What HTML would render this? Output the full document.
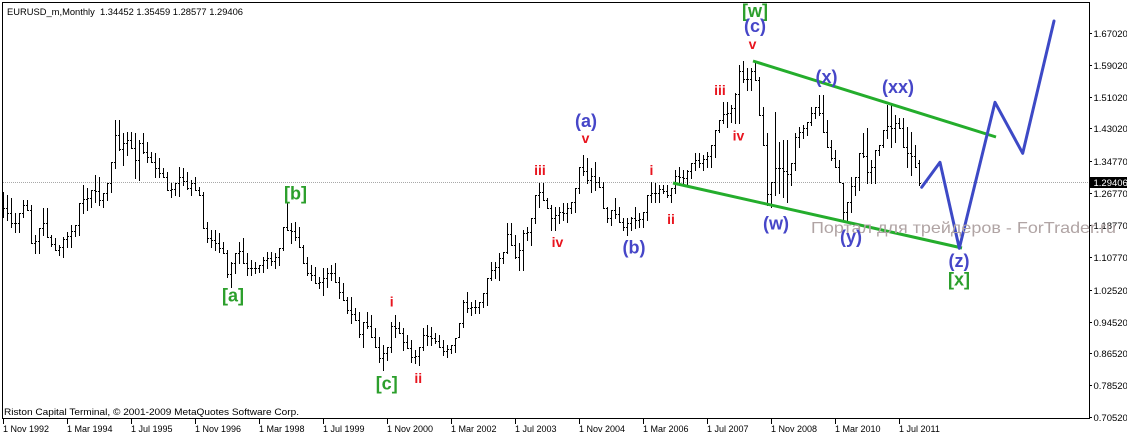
<!DOCTYPE html>
<html><head><meta charset="utf-8">
<style>
html,body{margin:0;padding:0;background:#fff;width:1127px;height:436px;overflow:hidden}
svg{display:block}
text{font-family:"Liberation Sans",Arial,sans-serif}
.b{font-weight:bold;text-anchor:middle}
.g{fill:#2c9f2c;font-size:18px}
.u{fill:#4646c8;font-size:18px}
.r{fill:#e8141e;font-size:14px}
.ya{font-size:9.5px;fill:#000}
.xa{font-size:9px;fill:#000}
</style></head><body>
<svg id="s" width="1127" height="436" viewBox="0 0 1127 436" xmlns="http://www.w3.org/2000/svg">
<rect width="1127" height="436" fill="#fff"/>
<defs><clipPath id="c"><rect x="2" y="3" width="1087" height="415"/></clipPath></defs>
<line x1="3" y1="182.5" x2="1089" y2="182.5" stroke="#a8a8a8" stroke-dasharray="1 1" shape-rendering="crispEdges"/>
<path id="bars" clip-path="url(#c)" stroke="#000" stroke-width="1" fill="none" shape-rendering="crispEdges" d=""/>
<rect x="2.5" y="2.5" width="1087" height="416" fill="none" stroke="#000" stroke-width="1" shape-rendering="crispEdges"/>

<!-- channel lines -->
<line x1="753" y1="61" x2="996" y2="137" stroke="#24ad2c" stroke-width="3"/>
<line x1="673" y1="183" x2="962" y2="248" stroke="#24ad2c" stroke-width="3"/>
<!-- projection -->
<polyline points="921.7,187.3 940,162.3 959.3,248.3 995,102.3 1022.7,153.3 1054,21" fill="none" stroke="#3d49c6" stroke-width="3" stroke-linejoin="round" stroke-linecap="round"/>

<!-- header/footer -->
<text x="7" y="15" style="font-size:9.5px" textLength="236" lengthAdjust="spacingAndGlyphs">EURUSD_m,Monthly&#160;&#160;1.34452 1.35459 1.28577 1.29406</text>
<text x="4" y="415" style="font-size:9.5px" textLength="295" lengthAdjust="spacingAndGlyphs">Riston Capital Terminal, © 2001-2009 MetaQuotes Software Corp.</text>

<!-- y axis -->
<g stroke="#000" shape-rendering="crispEdges">
<line x1="1089" y1="33.5" x2="1092" y2="33.5"/>
<line x1="1089" y1="65.5" x2="1092" y2="65.5"/>
<line x1="1089" y1="97.5" x2="1092" y2="97.5"/>
<line x1="1089" y1="128.5" x2="1092" y2="128.5"/>
<line x1="1089" y1="161.5" x2="1092" y2="161.5"/>
<line x1="1089" y1="193.5" x2="1092" y2="193.5"/>
<line x1="1089" y1="225.5" x2="1092" y2="225.5"/>
<line x1="1089" y1="257.5" x2="1092" y2="257.5"/>
<line x1="1089" y1="290.5" x2="1092" y2="290.5"/>
<line x1="1089" y1="322.5" x2="1092" y2="322.5"/>
<line x1="1089" y1="353.5" x2="1092" y2="353.5"/>
<line x1="1089" y1="385.5" x2="1092" y2="385.5"/>
<line x1="1089" y1="417.5" x2="1092" y2="417.5"/>
</g>
<g class="ya">
<text x="1093.5" y="37">1.67020</text>
<text x="1093.5" y="69">1.59020</text>
<text x="1093.5" y="101">1.51020</text>
<text x="1093.5" y="132">1.43020</text>
<text x="1093.5" y="165">1.34770</text>
<text x="1093.5" y="197">1.26770</text>
<text x="1093.5" y="229">1.18770</text>
<text x="1093.5" y="261">1.10770</text>
<text x="1093.5" y="294">1.02520</text>
<text x="1093.5" y="326">0.94520</text>
<text x="1093.5" y="357">0.86520</text>
<text x="1093.5" y="389">0.78520</text>
<text x="1093.5" y="421">0.70520</text>
</g>
<rect x="1090" y="177" width="37" height="11" fill="#000"/>
<text x="1093.5" y="186" class="ya" style="fill:#fff">1.29406</text>

<!-- x axis -->
<g stroke="#000" shape-rendering="crispEdges">
<line x1="3.5" y1="419" x2="3.5" y2="424"/>
<line x1="67.5" y1="419" x2="67.5" y2="424"/>
<line x1="131.5" y1="419" x2="131.5" y2="424"/>
<line x1="195.5" y1="419" x2="195.5" y2="424"/>
<line x1="259.5" y1="419" x2="259.5" y2="424"/>
<line x1="323.5" y1="419" x2="323.5" y2="424"/>
<line x1="387.5" y1="419" x2="387.5" y2="424"/>
<line x1="451.5" y1="419" x2="451.5" y2="424"/>
<line x1="515.5" y1="419" x2="515.5" y2="424"/>
<line x1="579.5" y1="419" x2="579.5" y2="424"/>
<line x1="643.5" y1="419" x2="643.5" y2="424"/>
<line x1="707.5" y1="419" x2="707.5" y2="424"/>
<line x1="771.5" y1="419" x2="771.5" y2="424"/>
<line x1="835.5" y1="419" x2="835.5" y2="424"/>
<line x1="899.5" y1="419" x2="899.5" y2="424"/>
</g>
<g class="xa">
<text x="3" y="432">1 Nov 1992</text>
<text x="67" y="432">1 Mar 1994</text>
<text x="131" y="432">1 Jul 1995</text>
<text x="195" y="432">1 Nov 1996</text>
<text x="259" y="432">1 Mar 1998</text>
<text x="323" y="432">1 Jul 1999</text>
<text x="387" y="432">1 Nov 2000</text>
<text x="451" y="432">1 Mar 2002</text>
<text x="515" y="432">1 Jul 2003</text>
<text x="579" y="432">1 Nov 2004</text>
<text x="643" y="432">1 Mar 2006</text>
<text x="707" y="432">1 Jul 2007</text>
<text x="771" y="432">1 Nov 2008</text>
<text x="835" y="432">1 Mar 2010</text>
<text x="899" y="432">1 Jul 2011</text>
</g>

<!-- watermark -->
<text x="811" y="233" style="font-size:16px;fill:#b0a4a4" textLength="305" lengthAdjust="spacingAndGlyphs">Портал для трейдеров - ForTrader.ru</text>

<!-- wave labels -->
<g class="b g">
<text x="755" y="17">[w]</text>
<text x="959" y="285.5">[x]</text>
<text x="233" y="301.5">[a]</text>
<text x="295.5" y="199.5">[b]</text>
<text x="386.7" y="389.5">[c]</text>
</g>
<g class="b u">
<text x="755" y="32">(c)</text>
<text x="826.5" y="83">(x)</text>
<text x="898" y="93">(xx)</text>
<text x="776" y="229.5">(w)</text>
<text x="851" y="243">(y)</text>
<text x="959" y="267">(z)</text>
<text x="586" y="127">(a)</text>
<text x="634" y="253.5">(b)</text>
</g>
<g class="b r">
<text x="752.5" y="49">v</text>
<text x="720" y="95">iii</text>
<text x="738.5" y="140.5">iv</text>
<text x="585.5" y="143">v</text>
<text x="540" y="175">iii</text>
<text x="557.5" y="247">iv</text>
<text x="651.5" y="175">i</text>
<text x="671" y="224">ii</text>
<text x="391.7" y="306.5">i</text>
<text x="418.3" y="383">ii</text>
</g>
</svg>
<script>
(function(){
var segs=[
[0,110,[[245,320],[255,330],[265,350],[310,365],[310,365],[270,320],[270,300],[285,400],[375,428],[355,428],
[295,375],[295,380],[375,408],[385,420],[405,435],[380,442],[365,410],[345,410],[345,378],[280,375],
[225,310],[235,300],[240,290],[195,275],[200,285],[250,290],[220,270],[155,245],[30,175],[30,120],
[70,165],[65,135],[65,115],[70,205],[90,210],[70,130],[95,155],[125,155],[130,200],[145,200],
[175,200],[185,240],[220,260],[220,255],[170,258],[175,225],[185,238],[210,255],[200,240],[230,255],
[245,355],[335,395],[360,410],[360,420],[370,425],[395,430],[420,500],[455,530],[430,490],[395,460]]],
[60,180,[[175,250],[220,285],[240,285],[245,280],[255,275],[230,275],[215,265],[215,255],[220,265],[205,255],
[140,210],[70,150],[130,190],[125,180],[140,200],[195,250],[230,285],[255,300],[260,310],[290,325],
[265,345],[265,320],[255,300],[250,305],[290,355],[310,360],[350,400],[350,430],[385,420],[395,470],
[425,500],[395,445],[405,470],[445,500],[470,545],[495,570],[500,540],[425,515],[405,470],[425,460],
[445,510],[465,505],[480,545],[510,550],[500,555],[445,510],[435,495],[440,495],[460,490],[465,500],
[480,525],[495,530],[495,520],[475,515],[430,470],[360,440],[335,395]]],
[117,130,[[515,555],[510,550],[515,548],[490,530],[445,525],[395,450],[395,445],[370,450],[365,400],[280,370],
[280,345],[315,385],[340,420],[300,420],[290,330],[265,345],[195,280],[160,230],[160,210],[205,235],
[225,300],[230,300],[230,280],[220,270],[220,275],[215,250],[175,245],[110,190],[75,135],[85,160],
[115,185],[95,180],[140,170],[155,235],[230,275],[240,285],[205,265],[230,275],[265,300],[265,315],
[260,300],[230,295],[250,290],[245,290],[195,270],[155,215],[160,215],[165,215],[165,190],[165,200],
[175,215],[120,190],[110,165],[120,160],[120,165]]],
[172,0,[[490,535],[460,510],[460,500],[465,510],[455,500],[435,500],[390,470],[360,395],[305,370],[305,380],
[315,365],[280,370],[195,370],[183,245],[205,270],[205,270],[183,240],[230,345],[320,435],[400,615],
[545,620],[335,585],[425,580],[420,590],[420,605],[490,555],[400,510],[380,440],[375,415],[365,405],
[320,375],[320,355],[285,345],[285,395],[360,440],[420,480],[450,500],[480,545],[550,660],[605,665],
[530,635],[530,585],[460,570],[400,470],[385,550],[480,550],[450,550],[435,465],[390,440],[315,415],
[315,440],[345,425],[355,385],[355,440],[380,500],[395,525],[435,500],[480,555]]]
];
var H=[],L=[];
segs.forEach(function(s){var st=s[0],off=s[1];s[2].forEach(function(p,k){H[st+k]=off+p[0]/3;L[st+k]=off+p[1]/3;});});
var n=H.length,C=[],O=[],i;
function cl(v,a,b){return Math.min(b,Math.max(a,v));}
for(i=0;i<n;i++){
  var m=i<n-1?(H[i+1]+L[i+1])/2:182.7;
  C[i]=cl(m,H[i],L[i]);
  var o=i>0?C[i-1]:(H[i]+L[i])/2;
  O[i]=cl(o,H[i],L[i]);
}
O[n-1]=162.6;C[n-1]=182.7;
var d='';
for(i=0;i<n;i++){
  var x=3.5+4*i;
  d+='M'+x+' '+Math.round(H[i])+'V'+(Math.round(L[i])+1);
  d+='M'+(x-1.5)+' '+(Math.round(O[i])+0.5)+'h1';
  d+='M'+(x+0.5)+' '+(Math.round(C[i])+0.5)+'h1';
}
document.getElementById('bars').setAttribute('d',d);
})();
</script>
</body></html>
